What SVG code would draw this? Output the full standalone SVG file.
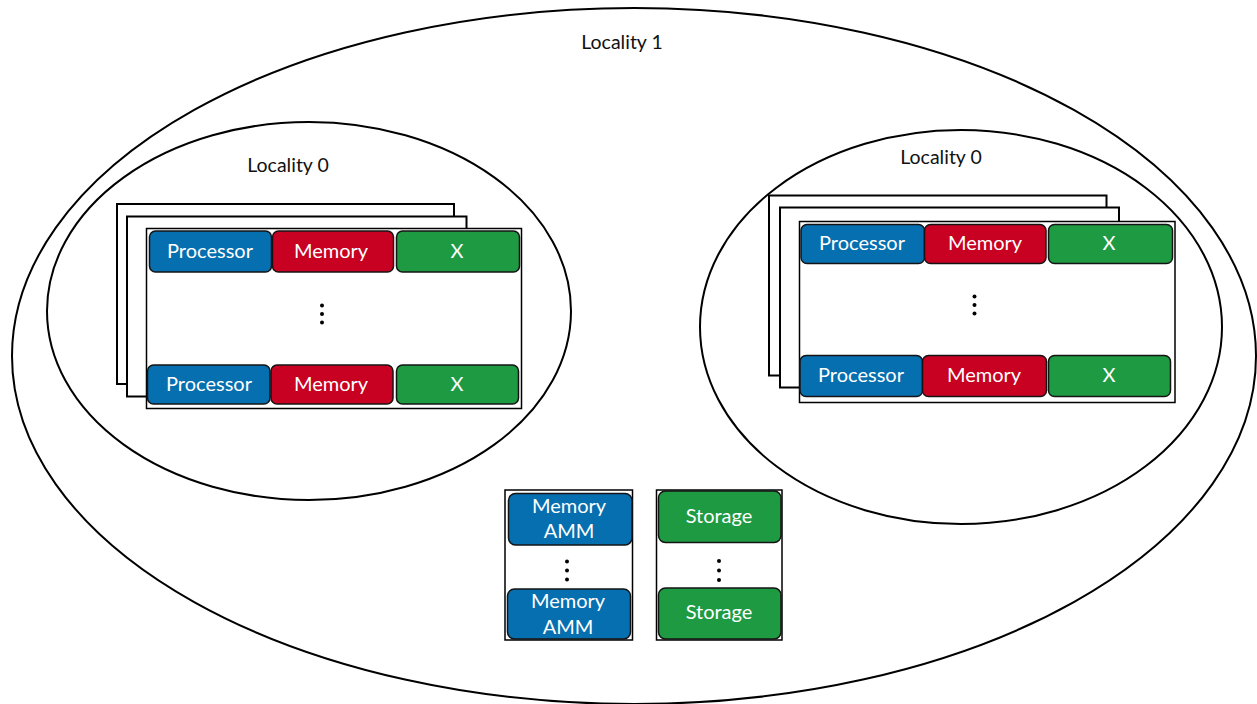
<svg xmlns="http://www.w3.org/2000/svg" width="1257" height="704" viewBox="0 0 1257 704">
  <style>
    .loc { fill: none; stroke: #000; stroke-width: 2; }
    .card { fill: #fff; stroke: #000; stroke-width: 2; }
    .frame { fill: #fff; stroke: #000; stroke-width: 1.5; }
    .bar { stroke: #141414; stroke-width: 1.5; }
    .blue { fill: #066fb0; }
    .red { fill: #c80021; }
    .green { fill: #1e9a43; }
    .lbl { font-family: Lato, "Open Sans", sans-serif; font-size: 20px; fill: #fff; text-anchor: middle; }
    .title { font-family: Lato, "Open Sans", sans-serif; font-size: 19.5px; fill: #111; text-anchor: middle; }
    .dot { fill: #000; }
  </style>
  <rect width="1257" height="704" fill="#fff"/>

  <!-- Locality 1: outer region -->
  <g id="locality1">
    <ellipse class="loc" cx="634" cy="356" rx="622" ry="348"/>
    <text class="title" x="622" y="49">Locality 1</text>
  </g>

  <!-- Locality 0 (left) -->
  <g id="locality0-left">
    <ellipse class="loc" cx="309" cy="311" rx="262" ry="189"/>
    <text class="title" x="288" y="172">Locality 0</text>
    <rect class="card" x="117" y="204" width="337" height="180"/>
    <rect class="card" x="127" y="216.5" width="339.5" height="180"/>
    <rect class="frame" x="146.5" y="228.5" width="375" height="180"/>
    <rect class="bar blue" x="149.5" y="231" width="122" height="41" rx="6"/>
    <rect class="bar red" x="272.5" y="231" width="121" height="41" rx="6"/>
    <rect class="bar green" x="396.5" y="231" width="123" height="41" rx="6"/>
    <text class="lbl" x="210" y="258">Processor</text>
    <text class="lbl" x="331" y="258">Memory</text>
    <text class="lbl" x="457" y="258">X</text>
    <circle class="dot" cx="322" cy="305.5" r="2"/>
    <circle class="dot" cx="322" cy="314" r="2"/>
    <circle class="dot" cx="322" cy="322.5" r="2"/>
    <rect class="bar blue" x="147.5" y="365" width="122.5" height="39" rx="6"/>
    <rect class="bar red" x="271" y="365" width="122" height="39" rx="6"/>
    <rect class="bar green" x="396.5" y="365" width="122" height="39" rx="6"/>
    <text class="lbl" x="209" y="391">Processor</text>
    <text class="lbl" x="331" y="391">Memory</text>
    <text class="lbl" x="457" y="391">X</text>
  </g>

  <!-- Locality 0 (right) -->
  <g id="locality0-right">
    <ellipse class="loc" cx="961" cy="327" rx="261" ry="197"/>
    <text class="title" x="941" y="164">Locality 0</text>
    <rect class="card" x="769" y="195.5" width="337.5" height="180"/>
    <rect class="card" x="780" y="207.5" width="339" height="180"/>
    <rect class="frame" x="799.5" y="221.5" width="375.5" height="181"/>
    <rect class="bar blue" x="801" y="224.5" width="123.5" height="39" rx="6"/>
    <rect class="bar red" x="924.5" y="224.5" width="121.5" height="39" rx="6"/>
    <rect class="bar green" x="1048.5" y="224.5" width="124" height="39" rx="6"/>
    <text class="lbl" x="862" y="250">Processor</text>
    <text class="lbl" x="985" y="250">Memory</text>
    <text class="lbl" x="1109" y="250">X</text>
    <circle class="dot" cx="974.5" cy="296.5" r="2"/>
    <circle class="dot" cx="974.5" cy="305" r="2"/>
    <circle class="dot" cx="974.5" cy="313.5" r="2"/>
    <rect class="bar blue" x="800" y="355.5" width="122.5" height="41" rx="6"/>
    <rect class="bar red" x="922.5" y="355.5" width="124" height="41" rx="6"/>
    <rect class="bar green" x="1048.5" y="355.5" width="122" height="41" rx="6"/>
    <text class="lbl" x="861" y="382">Processor</text>
    <text class="lbl" x="984" y="382">Memory</text>
    <text class="lbl" x="1109" y="382">X</text>
  </g>

  <!-- Shared memory (AMM) column -->
  <g id="amm">
    <rect class="frame" x="505" y="490" width="127.5" height="150"/>
    <rect class="bar blue" x="508.5" y="493.5" width="123.5" height="51.5" rx="7"/>
    <text class="lbl" x="569" y="513">Memory</text>
    <text class="lbl" x="569" y="538">AMM</text>
    <circle class="dot" cx="567" cy="561.5" r="2"/>
    <circle class="dot" cx="567" cy="570.5" r="2"/>
    <circle class="dot" cx="567" cy="579.5" r="2"/>
    <rect class="bar blue" x="507.5" y="589" width="123" height="50" rx="7"/>
    <text class="lbl" x="568" y="608">Memory</text>
    <text class="lbl" x="568" y="634">AMM</text>
  </g>

  <!-- Shared storage column -->
  <g id="storage">
    <rect class="frame" x="656.5" y="490" width="125.5" height="150"/>
    <rect class="bar green" x="658.5" y="491" width="122.5" height="51.5" rx="7"/>
    <text class="lbl" x="719" y="523">Storage</text>
    <circle class="dot" cx="719" cy="561" r="2"/>
    <circle class="dot" cx="719" cy="570.5" r="2"/>
    <circle class="dot" cx="719" cy="580" r="2"/>
    <rect class="bar green" x="658.5" y="588" width="122.5" height="51" rx="7"/>
    <text class="lbl" x="719" y="619">Storage</text>
  </g>
</svg>
